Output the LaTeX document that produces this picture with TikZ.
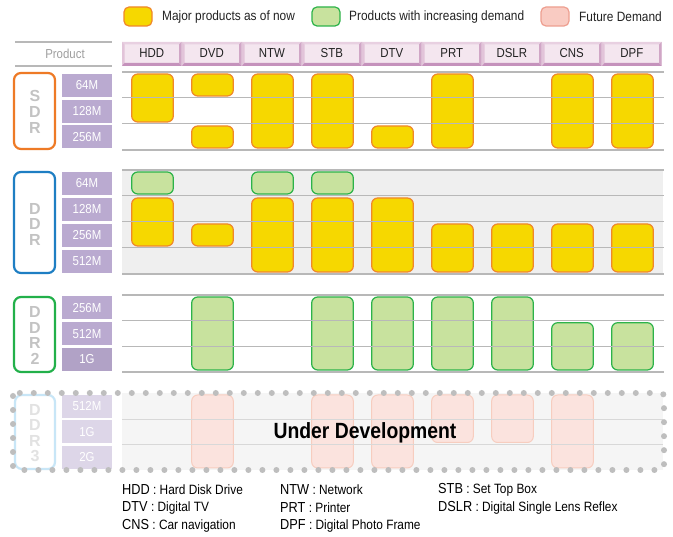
\documentclass[tikz,border=0pt]{standalone}
\usepackage{fontspec}
\setmainfont{Liberation Sans}[FakeStretch=0.88]
\newfontfamily\letterfont{Liberation Sans}
\definecolor{yellowF}{HTML}{F6D800}
\definecolor{orangeB}{HTML}{F0882A}
\definecolor{greenF}{HTML}{C8E29E}
\definecolor{greenB}{HTML}{2DB34A}
\definecolor{pinkF}{HTML}{F9CBC2}
\definecolor{pinkB}{HTML}{EE9F90}
\definecolor{pinkFf}{HTML}{FBE3DE}
\definecolor{pinkBf}{HTML}{F7CDBF}
\definecolor{sdrC}{HTML}{EE7A26}
\definecolor{ddrC}{HTML}{1E7EC3}
\definecolor{ddrtwoC}{HTML}{22B04A}
\definecolor{ddrthreeC}{HTML}{C8E6F7}
\definecolor{labC}{HTML}{BAAAD0}
\definecolor{labFC}{HTML}{DDD6E8}
\definecolor{gridC}{HTML}{B8B8B8}
\definecolor{gridFC}{HTML}{D8D8D8}
\definecolor{bgC}{HTML}{EFEFEF}
\definecolor{bgFC}{HTML}{F5F5F5}
\definecolor{letC}{HTML}{C3C3C3}
\definecolor{letFC}{HTML}{E2E2E2}
\definecolor{hdrTop}{HTML}{E8D0E1}
\definecolor{hdrLeft}{HTML}{E2C4D9}
\definecolor{hdrRight}{HTML}{D0A6C6}
\definecolor{hdrFill}{HTML}{F4E6EF}
\definecolor{hdrDark}{HTML}{C592BC}
\definecolor{dotC}{HTML}{BEBEBE}
\definecolor{txtC}{HTML}{222222}
\newcommand\pbar[4]{\draw[#4] ({152.5+60*#1-20.8},#2) rectangle ({152.5+60*#1+20.8},#3);}
\newcommand\abbr[1]{{\fontsize{14.5}{16}\selectfont #1}}
\begin{document}
\begin{tikzpicture}[x=1pt,y=-1pt,
  major/.style={draw=orangeB, fill=yellowF, line width=1.2pt, rounded corners=6pt},
  incr/.style={draw=greenB, fill=greenF, line width=1.2pt, rounded corners=6pt},
  futr/.style={draw=pinkBf, fill=pinkFf, line width=1pt, rounded corners=6pt},
  grp/.style={line width=2.2pt, rounded corners=7pt, fill=white},
  letter/.style={font=\letterfont\bfseries\fontsize{16}{16}\selectfont, text=letC, inner sep=0pt},
  lab/.style={fill=labC, text=white, minimum width=50pt, minimum height=23pt, inner sep=0pt, font=\fontsize{13}{14}\selectfont},
  labf/.style={lab, fill=labFC},
  thick grid/.style={draw=gridC, line width=2pt},
  thin grid/.style={draw=gridC, line width=1pt},
  legtext/.style={anchor=west, inner sep=0pt, text=txtC, font=\fontsize{13.5}{15}\selectfont},
  hdrtext/.style={inner sep=0pt, text=txtC, font=\fontsize{13}{15}\selectfont},
  foot/.style={anchor=west, inner sep=0pt, text=black, font=\fontsize{13.5}{15}\selectfont}
]
\useasboundingbox[fill=white] (0,0) rectangle (673,537);

% ---------- legend
\draw[major, rounded corners=5pt] (124,7) rectangle (152,26);
\node[legtext] (lg1) at (162,17) {Major products as of now};
\draw[incr, rounded corners=5pt] (312,7) rectangle (340,26);
\node[legtext] (lg2) at (349,17) {Products with increasing demand};
\draw[draw=pinkB, fill=pinkF, line width=1.2pt, rounded corners=5pt] (541,7) rectangle (569,26);
\node[legtext] (lg3) at (579,17) {Future Demand};

% ---------- product header
\draw[draw=gridC, line width=1.5pt] (15,42) -- (112,42);
\draw[draw=gridC, line width=1.5pt] (15,66) -- (112,66);
\node[hdrtext, text=gray!75] (prod) at (65,54) {Product};
\foreach \n [count=\i from 0] in {HDD,DVD,NTW,STB,DTV,PRT,DSLR,CNS,DPF}{
  \pgfmathsetmacro\xa{122+60*\i}
  \pgfmathsetmacro\xb{181.5+60*\i}
  \fill[hdrFill] (\xa,42) rectangle (\xb,66);
  \fill[hdrTop] (\xa,42) -- (\xb,42) -- ({\xb-2.5},44.5) -- ({\xa+2.5},44.5) -- cycle;
  \fill[hdrLeft] (\xa,42) -- ({\xa+2.5},44.5) -- ({\xa+2.5},63) -- (\xa,66) -- cycle;
  \fill[hdrRight] (\xb,42) -- (\xb,66) -- ({\xb-2.5},63) -- ({\xb-2.5},44.5) -- cycle;
  \fill[hdrDark] (\xa,66) -- ({\xa+2.5},63) -- ({\xb-2.5},63) -- (\xb,66) -- cycle;
  \node[hdrtext] (h\n) at ({151.8+60*\i},53.5) {\n};
}

% ---------- backgrounds
\fill[bgC] (122,170) rectangle (663,274);
\fill[bgFC] (122,393) rectangle (663,470);

% ---------- SDR bars
\pbar{0}{74}{122}{major}
\pbar{1}{74}{96}{major}
\pbar{1}{126}{148}{major}
\pbar{2}{74}{148}{major}
\pbar{3}{74}{148}{major}
\pbar{4}{126}{148}{major}
\pbar{5}{74}{148}{major}
\pbar{7}{74}{148}{major}
\pbar{8}{74}{148}{major}

% ---------- DDR bars
\pbar{0}{172}{194}{incr}
\pbar{2}{172}{194}{incr}
\pbar{3}{172}{194}{incr}
\pbar{0}{198}{246}{major}
\pbar{1}{224}{246}{major}
\pbar{2}{198}{272}{major}
\pbar{3}{198}{272}{major}
\pbar{4}{198}{272}{major}
\pbar{5}{224}{272}{major}
\pbar{6}{224}{272}{major}
\pbar{7}{224}{272}{major}
\pbar{8}{224}{272}{major}

% ---------- DDR2 bars
\pbar{1}{297}{370}{incr}
\pbar{3}{297}{370}{incr}
\pbar{4}{297}{370}{incr}
\pbar{5}{297}{370}{incr}
\pbar{6}{297}{370}{incr}
\pbar{7}{322.7}{370}{incr}
\pbar{8}{322.7}{370}{incr}

% ---------- DDR3 bars
\pbar{1}{395}{468}{futr}
\pbar{3}{395}{468}{futr}
\pbar{4}{395}{468}{futr}
\pbar{5}{395}{442.5}{futr}
\pbar{6}{395}{442.5}{futr}
\pbar{7}{395}{468}{futr}

% ---------- grid lines
\draw[thick grid] (122,72) -- (664,72);
\draw[thin grid] (122,98) -- (664,98);
\draw[thin grid] (122,124) -- (664,124);
\draw[thick grid] (122,150) -- (664,150);

\draw[thick grid] (122,170) -- (664,170);
\draw[thin grid] (122,196) -- (664,196);
\draw[thin grid] (122,222) -- (664,222);
\draw[thin grid] (122,248) -- (664,248);
\draw[thick grid] (122,274) -- (664,274);

\draw[thick grid] (122,295) -- (664,295);
\draw[thin grid] (122,320.7) -- (664,320.7);
\draw[thin grid] (122,346.3) -- (664,346.3);
\draw[thick grid] (122,372) -- (664,372);

\draw[draw=gridFC, line width=0.8pt] (122,419) -- (663,419);
\draw[draw=gridFC, line width=0.8pt] (122,444.5) -- (663,444.5);

% ---------- group boxes and letters
\draw[grp, draw=sdrC] (14,73) rectangle (55,149);
\foreach \l [count=\i] in {S,D,R}
  \node[letter] (sdr\i) at (35,{95.5+16*(\i-1)}) {\l};
\draw[grp, draw=ddrC] (14,172) rectangle (55,273);
\foreach \l [count=\i] in {D,D,R}
  \node[letter] (ddr\i) at (35,{208.5+15.5*(\i-1)}) {\l};
\draw[grp, draw=ddrtwoC] (14,297) rectangle (55,372);
\foreach \l [count=\i] in {D,D,R,2}
  \node[letter] (ddrb\i) at (35,{312+15.5*(\i-1)}) {\l};
\draw[grp, draw=ddrthreeC] (15,395) rectangle (55,469);
\foreach \l [count=\i] in {D,D,R,3}
  \node[letter, text=letFC] (ddrc\i) at (35,{409.5+15.5*(\i-1)}) {\l};

% ---------- row labels
\node[lab] (s64) at (87,85.5) {64M};
\node[lab] (s128) at (87,111.3) {128M};
\node[lab] (s256) at (87,137) {256M};
\node[lab] (d64) at (87,183.5) {64M};
\node[lab] (d128) at (87,209.5) {128M};
\node[lab] (d256) at (87,235.5) {256M};
\node[lab] (d512) at (87,261.3) {512M};
\node[lab] (b256) at (87,308) {256M};
\node[lab] (b512) at (87,333.7) {512M};
\node[lab, fill=labC!95!black] (b1) at (87,359.5) {1G};
\node[labf] (c512) at (87,406.5) {512M};
\node[labf] (c1) at (87,431.8) {1G};
\node[labf] (c2) at (87,457.3) {2G};

% ---------- DDR3 dotted frame
\draw[draw=dotC, line width=6pt, line cap=round, dash pattern=on 0pt off 14pt, rounded corners=3pt]
  (13,393) rectangle (664,470);

\node[inner sep=0pt, text=black, font=\bfseries\fontsize{22}{24}\selectfont] (ud) at (365,433) {Under Development};

% ---------- footer
\node[foot] (fHDD) at (122,490) {\abbr{HDD} : Hard Disk Drive};
\node[foot] (fDTV) at (122,508) {\abbr{DTV} : Digital TV};
\node[foot] (fCNS) at (122,525.5) {\abbr{CNS} : Car navigation};
\node[foot] (fNTW) at (280,490) {\abbr{NTW} : Network};
\node[foot] (fPRT) at (280,508) {\abbr{PRT} : Printer};
\node[foot] (fDPF) at (280,525.5) {\abbr{DPF} : Digital Photo Frame};
\node[foot] (fSTB) at (438,490) {\abbr{STB} : Set Top Box};
\node[foot] (fDSLR) at (438,508) {\abbr{DSLR} : Digital Single Lens Reflex};
\end{tikzpicture}
\end{document}
